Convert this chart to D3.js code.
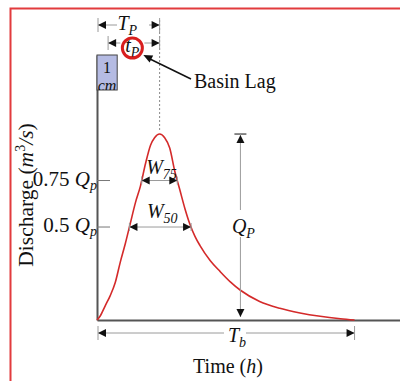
<!DOCTYPE html>
<html>
<head>
<meta charset="utf-8">
<script src="https://cdn.jsdelivr.net/npm/d3@7"></script>
<style>
  html, body { margin: 0; padding: 0; background: #fff; }
  svg { display: block; }
  text { font-family: "Liberation Serif", "Times New Roman", serif; fill: #111; }
</style>
</head>
<body>
<script>
// Unit hydrograph: discharge (fraction of peak Qp) against time in hours
const timeH = [0, 0.3, 0.8, 1.3, 1.8, 2.3, 2.8, 3.3, 3.8, 4.3, 4.8, 5.3, 5.7, 6.2,
               6.7, 7.2, 7.7, 8.2, 8.7, 9.2, 9.7, 10.2, 11.2, 12.2, 13.2, 14.2,
               16.1, 18.1, 20.1, 22.1, 24.1, 25.5];
const discharge = [0, 0.02, 0.075, 0.13, 0.2, 0.31, 0.41, 0.52, 0.63, 0.72, 0.84, 0.94, 0.98, 1.0,
                   0.98, 0.925, 0.80, 0.70, 0.60, 0.515, 0.45, 0.40, 0.32, 0.26, 0.205, 0.16,
                   0.10, 0.063, 0.038, 0.02, 0.007, 0];

// Effective rainfall block
const rainDuration = 2;   // h
const rainDepth = 1;      // cm

// Reference discharge levels for the width measures
const levelFractions = [0.75, 0.5];
const levelNames = ["0.75", "0.5"];
const widthNames = ["75", "50"];

// Time at which the peak-discharge dimension line is drawn
const qpLineTime = 14.2;

const W = 400, H = 381;
const svg = d3.select("body").append("svg").attr("width", W).attr("height", H);

const x = d3.scaleLinear().domain([0, 30]).range([97, 400]);
const y = d3.scaleLinear().domain([0, 1.425]).range([320, 55]);
const yRain = d3.scaleLinear().domain([0, 1]).range([90, 55]);

const gray = "#9a9a9a", dark = "#111", red = "#d42a2a";

// Outer frame
svg.append("rect")
  .attr("x", 10.5).attr("y", 8.5).attr("width", 420).attr("height", 420)
  .attr("fill", "none").attr("stroke", "#e23b3d").attr("stroke-width", 2);

// Peak
const peakIdx = d3.maxIndex(discharge);
const peakT = timeH[peakIdx], peakQ = discharge[peakIdx];
const endT = timeH[timeH.length - 1];

// Dotted guide through the peak
svg.append("line")
  .attr("x1", x(peakT)).attr("x2", x(peakT))
  .attr("y1", 20).attr("y2", y(peakQ) - 2)
  .attr("stroke", "#888").attr("stroke-width", 1).attr("stroke-dasharray", "2,2");

// Axes
const axisY = d3.axisLeft(y).tickValues([]).tickSizeOuter(0);
const axisX = d3.axisBottom(x).tickValues([]).tickSizeOuter(0);
const gy = svg.append("g").attr("transform", `translate(${x(0)},0)`).call(axisY);
const gx = svg.append("g").attr("transform", `translate(0,${y(0)})`).call(axisX);
[gy, gx].forEach(g => g.select(".domain").attr("stroke", "#555").attr("stroke-width", 2));

// Level ticks and labels
levelFractions.forEach((f, i) => {
  const yy = y(f * peakQ);
  svg.append("line").attr("x1", x(0)).attr("x2", x(0) + 13)
    .attr("y1", yy).attr("y2", yy).attr("stroke", "#777").attr("stroke-width", 1);
  const t = svg.append("text").attr("x", x(0)).attr("y", yy + 5)
    .attr("text-anchor", "end").attr("font-size", 21);
  t.append("tspan").text(levelNames[i] + " ");
  t.append("tspan").attr("font-style", "italic").text("Q");
  t.append("tspan").attr("font-style", "italic").attr("font-size", 14).attr("dy", 4).text("p");
});

// Rainfall bar
const clip = svg.append("clipPath").attr("id", "rainClip");
clip.append("rect").attr("x", x(0)).attr("y", yRain(rainDepth))
  .attr("width", x(rainDuration) - x(0)).attr("height", yRain(0) - yRain(rainDepth));
svg.append("rect")
  .attr("x", x(0)).attr("y", yRain(rainDepth))
  .attr("width", x(rainDuration) - x(0)).attr("height", yRain(0) - yRain(rainDepth))
  .attr("fill", "#b5bbe3").attr("stroke", "#444").attr("stroke-width", 1);
const rainCx = x(rainDuration / 2);
svg.append("text").attr("x", rainCx).attr("y", yRain(rainDepth) + 18)
  .attr("text-anchor", "middle").attr("font-size", 16).text(String(rainDepth));
svg.append("text").attr("clip-path", "url(#rainClip)").attr("x", rainCx).attr("y", yRain(0) + 1)
  .attr("text-anchor", "middle").attr("font-size", 16).attr("font-style", "italic").text("cm");

// Hydrograph curve
const pts = timeH.map((t, i) => [t, discharge[i]]);
svg.append("path").datum(pts)
  .attr("fill", "none").attr("stroke", red).attr("stroke-width", 1.6)
  .attr("d", d3.line().x(d => x(d[0])).y(d => y(d[1])).curve(d3.curveMonotoneX));

// Helpers for dimension lines
function head(tipX, tipY, dir) {
  // dir: "left" | "right" | "up" | "down"
  const L = 8, h = 4;
  let p;
  if (dir === "left") p = [[tipX, tipY], [tipX + L, tipY - h], [tipX + L, tipY + h]];
  if (dir === "right") p = [[tipX, tipY], [tipX - L, tipY - h], [tipX - L, tipY + h]];
  if (dir === "up") p = [[tipX, tipY], [tipX - h, tipY + L], [tipX + h, tipY + L]];
  if (dir === "down") p = [[tipX, tipY], [tipX - h, tipY - L], [tipX + h, tipY - L]];
  svg.append("path").attr("d", "M" + p.join("L") + "Z").attr("fill", dark);
}
function hDim(x1, x2, yy, gap, tick) {
  const segs = gap ? [[x1, gap[0]], [gap[1], x2]] : [[x1, x2]];
  segs.forEach(s => svg.append("line").attr("x1", s[0]).attr("x2", s[1])
    .attr("y1", yy).attr("y2", yy).attr("stroke", gray).attr("stroke-width", 1));
  head(x1, yy, "left");
  head(x2, yy, "right");
  if (tick) [x1, x2].forEach(xx => svg.append("line").attr("x1", xx).attr("x2", xx)
    .attr("y1", yy - tick).attr("y2", yy + tick).attr("stroke", gray).attr("stroke-width", 1));
}
function subLabel(cx, by, main, sub) {
  const t = svg.append("text").attr("x", cx).attr("y", by)
    .attr("font-size", 20).attr("font-style", "italic").attr("text-anchor", "middle");
  t.append("tspan").text(main);
  t.append("tspan").attr("font-size", 14).attr("dy", 5).text(sub);
  return t;
}

// Time to peak T_P
const tpY = 25;
hDim(x(0) + 1, x(peakT), tpY, [117, 149], 7);
subLabel((x(0) + x(peakT)) / 2 - 1, 30, "T", "P");

// Basin lag t_P: rainfall centroid to peak
const lagY = 43;
const lagCx = (rainCx + x(peakT)) / 2 - 1;
hDim(rainCx + 1, x(peakT), lagY, [lagCx - 12, lagCx + 12], 7);
subLabel(lagCx, 52, "t", "P");
svg.append("circle").attr("cx", lagCx).attr("cy", 48).attr("r", 10)
  .attr("fill", "none").attr("stroke", "#d81e1e").attr("stroke-width", 3);

// Callout
svg.append("line").attr("x1", 191).attr("y1", 79).attr("x2", 150).attr("y2", 59)
  .attr("stroke", dark).attr("stroke-width", 1.5);
(function () {
  const tipX = lagCx + 11, tipY = 55;
  const ang = Math.atan2(79 - tipY, 191 - tipX);
  const L = 9, h = 4;
  const bx = tipX + L * Math.cos(ang), by = tipY + L * Math.sin(ang);
  const px = -Math.sin(ang) * h, py = Math.cos(ang) * h;
  svg.append("path").attr("fill", dark)
    .attr("d", `M${tipX},${tipY}L${bx + px},${by + py}L${bx - px},${by - py}Z`);
})();
svg.append("text").attr("x", 194).attr("y", 88).attr("font-size", 20).text("Basin Lag");

// Widths at 75% and 50% of peak
function crossing(level, side) {
  const rng = side === "rise" ? d3.range(0, peakIdx) : d3.range(peakIdx, timeH.length - 1);
  for (const i of rng) {
    const a = discharge[i], b = discharge[i + 1];
    if ((a - level) * (b - level) <= 0 && a !== b) {
      return timeH[i] + (level - a) / (b - a) * (timeH[i + 1] - timeH[i]);
    }
  }
  return peakT;
}
levelFractions.forEach((f, i) => {
  const lv = f * peakQ;
  const xa = x(crossing(lv, "rise")), xb = x(crossing(lv, "fall"));
  const yy = y(lv);
  hDim(xa, xb, yy, null, 4);
  subLabel((xa + xb) / 2 + 2, yy - (i === 0 ? 7 : 9), "W", widthNames[i]);
});

// Peak discharge Q_P
const qx = x(qpLineTime);
svg.append("line").attr("x1", qx - 6).attr("x2", qx + 6)
  .attr("y1", y(peakQ)).attr("y2", y(peakQ)).attr("stroke", dark).attr("stroke-width", 1);
[[y(peakQ), 210], [237, y(0) - 3]].forEach(s => svg.append("line")
  .attr("x1", qx).attr("x2", qx).attr("y1", s[0]).attr("y2", s[1])
  .attr("stroke", gray).attr("stroke-width", 1));
head(qx, y(peakQ) + 1, "up");
head(qx, y(0) - 3, "down");
subLabel(qx + 3, 233, "Q", "P");

// Base time T_b
const tbY = 333;
hDim(x(0) + 1, x(endT), tbY, [224, 246], 7);
subLabel(237, 342, "T", "b");

// Axis titles
svg.append("text").attr("x", 228).attr("y", 373).attr("text-anchor", "middle")
  .attr("font-size", 20)
  .call(t => {
    t.append("tspan").text("Time (");
    t.append("tspan").attr("font-style", "italic").text("h");
    t.append("tspan").text(")");
  });
svg.append("text").attr("transform", "translate(33,195) rotate(-90)")
  .attr("text-anchor", "middle").attr("font-size", 21.5)
  .call(t => {
    t.append("tspan").text("Discharge (");
    t.append("tspan").attr("font-style", "italic").text("m");
    t.append("tspan").attr("font-size", 14).attr("dy", -8).text("3");
    t.append("tspan").attr("font-style", "italic").attr("dy", 8).text("/s");
    t.append("tspan").text(")");
  });
</script>
</body>
</html>
